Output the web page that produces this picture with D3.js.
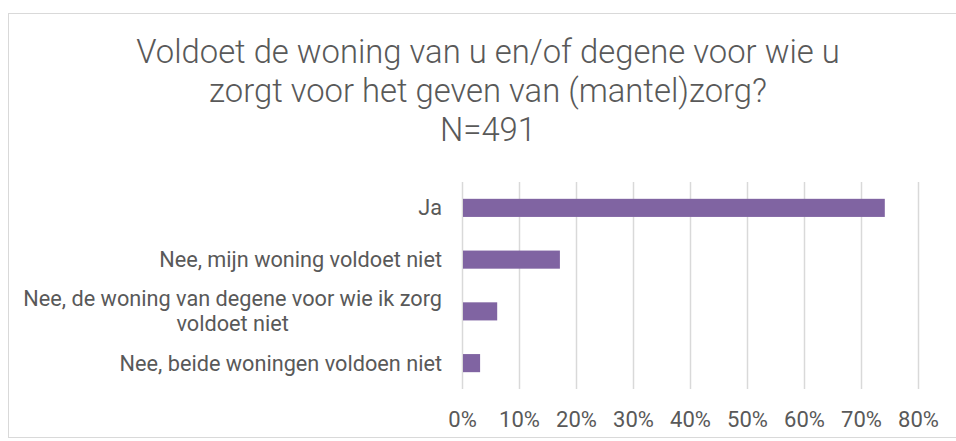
<!DOCTYPE html>
<html>
<head>
<meta charset="utf-8">
<script src="https://cdnjs.cloudflare.com/ajax/libs/d3/7.8.5/d3.min.js"></script>
<style>
  body { margin: 0; background: #fff; }
  svg { display: block; font-family: Roboto, "Liberation Sans", sans-serif; }
</style>
</head>
<body>
<svg id="chart"></svg>
<script>
// data
var titleLines = ["Voldoet de woning van u en/of degene voor wie u", "zorgt voor het geven van (mantel)zorg?", "N=491"];
var categories = ["Ja", "Nee, mijn woning voldoet niet", "Nee, de woning van degene voor wie ik zorg voldoet niet", "Nee, beide woningen voldoen niet"];
var labelLines = [["Ja"], ["Nee, mijn woning voldoet niet"], ["Nee, de woning van degene voor wie ik zorg", "voldoet niet"], ["Nee, beide woningen voldoen niet"]];
var values = [74, 17, 6, 3];
var ticks = [0, 10, 20, 30, 40, 50, 60, 70, 80];

var W = 956, H = 441;
var margin = {top: 182, right: 38, bottom: 52, left: 462},
    width = W - margin.left - margin.right,
    height = H - margin.top - margin.bottom;

var svg = d3.select("#chart")
    .attr("width", W)
    .attr("height", H);

// chart border
svg.append("rect")
    .attr("x", 8.5).attr("y", 13.5)
    .attr("width", W + 10).attr("height", 424)
    .attr("fill", "none")
    .attr("stroke", "#d9d9d9")
    .attr("stroke-width", 1);

// title
svg.append("text")
    .attr("text-anchor", "middle")
    .style("font-size", "32.8px")
    .style("font-weight", 300)
    .style("fill", "#595959")
  .selectAll("tspan")
    .data(titleLines)
    .enter().append("tspan")
    .attr("x", 488)
    .attr("y", function(d, i) { return 63 + i * 39; })
    .text(function(d) { return d; });

var g = svg.append("g")
    .attr("transform", "translate(" + margin.left + "," + margin.top + ")");

var x = d3.scaleLinear()
    .domain([0, 80])
    .range([0, width]);

var y = d3.scaleBand()
    .domain(categories)
    .range([0, height])
    .paddingInner(0.65)
    .paddingOuter(0.325);

// gridlines
g.append("g")
    .attr("class", "grid")
    .call(d3.axisBottom(x).tickValues(ticks).tickSize(height).tickFormat(""))
    .call(function(s) {
      s.select(".domain").remove();
      s.selectAll("line").attr("stroke", "#d9d9d9").attr("stroke-width", 1.5);
    });

// bars
g.selectAll(".bar")
    .data(values)
    .enter().append("rect")
    .attr("class", "bar")
    .attr("x", x(0) + 1)
    .attr("y", function(d, i) { return y(categories[i]); })
    .attr("width", function(d) { return x(d) - x(0); })
    .attr("height", y.bandwidth())
    .attr("fill", "#8064a2");

// x axis labels
g.append("g")
    .attr("transform", "translate(0," + height + ")")
    .call(d3.axisBottom(x).tickValues(ticks).tickSize(0).tickPadding(22)
      .tickFormat(function(d) { return d + "%"; }))
    .call(function(s) {
      s.select(".domain").remove();
      s.selectAll("text")
        .style("font-size", "22px")
        .style("font-family", "Roboto, sans-serif")
        .attr("fill", "#595959");
    });

// category labels
var lab = g.append("g").selectAll(".cat")
    .data(categories)
    .enter().append("text")
    .attr("class", "cat")
    .attr("text-anchor", "end")
    .style("font-size", "21.7px")
    .style("fill", "#595959")
    .attr("transform", function(d) {
      return "translate(-20," + (y(d) + y.bandwidth() / 2) + ")";
    });

lab.each(function(d, i) {
  var lines = labelLines[i];
  var t = d3.select(this);
  var n = lines.length;
  lines.forEach(function(l, j) {
    t.append("tspan")
      .attr("x", 0)
      .attr("y", (j - (n - 1) / 2) * 25)
      .attr("dy", "0.35em")
      .text(l);
  });
});

// center the wrapped second line under the first one
lab.filter(function(d, i) { return labelLines[i].length > 1; })
  .each(function() {
    var spans = d3.select(this).selectAll("tspan").nodes();
    var w0 = spans[0].getComputedTextLength();
    for (var k = 1; k < spans.length; k++) {
      var wk = spans[k].getComputedTextLength();
      d3.select(spans[k]).attr("x", -(w0 - wk) / 2);
    }
  });
</script>
</body>
</html>
